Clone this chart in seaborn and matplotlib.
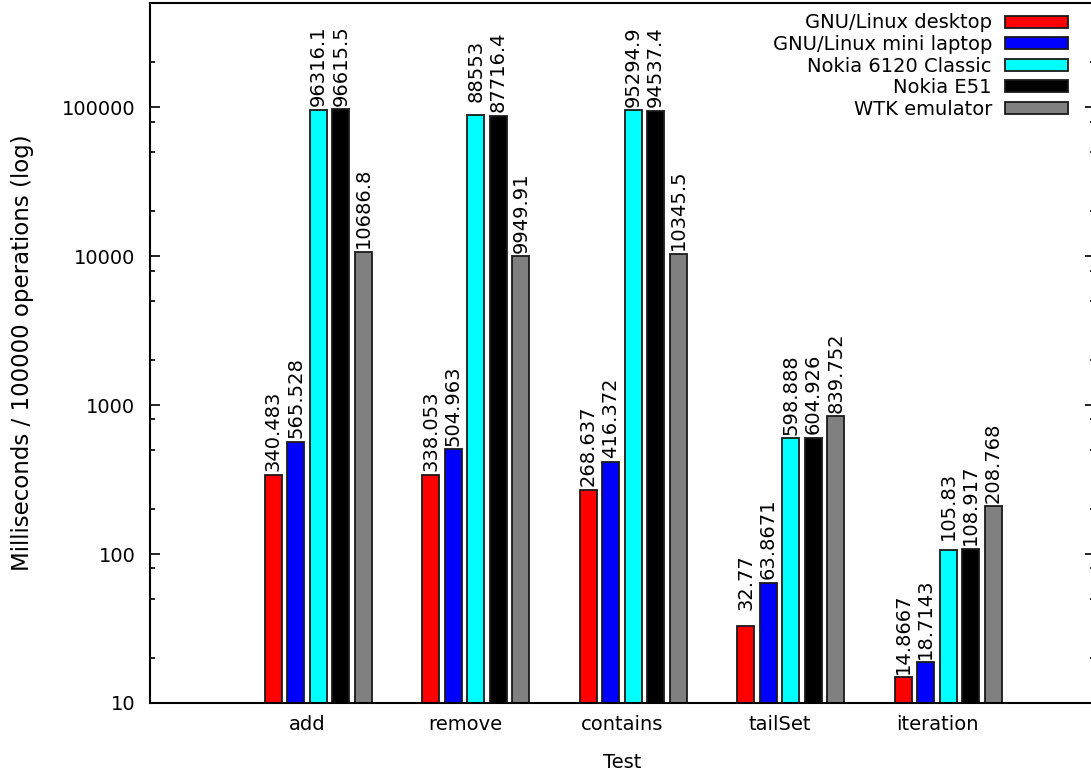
import numpy as np
import pandas as pd
import matplotlib
matplotlib.use("Agg")
import matplotlib.pyplot as plt
from matplotlib.patches import Patch
from matplotlib.ticker import LogLocator, FixedLocator, FuncFormatter, NullFormatter
import seaborn as sns

# ---- data ----
tests = ["add", "remove", "contains", "tailSet", "iteration"]
systems = ["GNU/Linux desktop", "GNU/Linux mini laptop", "Nokia 6120 Classic",
           "Nokia E51", "WTK emulator"]
linux_desktop = [340.483, 338.053, 268.637, 32.77, 14.8667]
linux_mini = [565.528, 504.963, 416.372, 63.8671, 18.7143]
nokia_6120 = [96316.1, 88553, 95294.9, 598.888, 105.83]
nokia_e51 = [96615.5, 87716.4, 94537.4, 604.926, 108.917]
wtk_emulator = [10686.8, 9949.91, 10345.5, 839.752, 208.768]
colors = ["#ff0000", "#0000ff", "#00ffff", "#000000", "#808080"]
yticks = [10, 100, 1000, 10000, 100000]

series = [linux_desktop, linux_mini, nokia_6120, nokia_e51, wtk_emulator]
rows = []
for sysname, vals in zip(systems, series):
    for t, v in zip(tests, vals):
        rows.append({"Test": t, "System": sysname, "value": v})
df = pd.DataFrame(rows)

sns.set_style("white")
plt.rcParams["font.family"] = ["DejaVu Sans"]
plt.rcParams["font.size"] = 14
plt.rcParams["text.color"] = "black"
plt.rcParams["axes.labelcolor"] = "black"
plt.rcParams["xtick.color"] = "black"
plt.rcParams["ytick.color"] = "black"

fig = plt.figure(figsize=(10.91, 7.74), dpi=100)
ax = fig.add_axes([150 / 1091, 71 / 774, 944.5 / 1091, 700 / 774])

sns.barplot(data=df, x="Test", y="value", hue="System", order=tests,
            hue_order=systems, palette=colors, width=0.714, gap=0.245,
            edgecolor="#1a1a1a", linewidth=1.3, errorbar=None, legend=False,
            saturation=1, ax=ax)

ax.set_yscale("log")
ax.set_ylim(10, 5e5)
ax.set_xlim(-1.07, 4.93)

# value labels
for cont, vals in zip(ax.containers, series):
    for bar, v in zip(cont, vals):
        xc = bar.get_x() + bar.get_width() / 2
        ax.annotate(f"{v:g}", xy=(xc, bar.get_height()), xytext=(0, 44),
                    textcoords="offset pixels", rotation=90, ha="center",
                    va="center", fontsize=14, color="black")

# axes styling
ax.set_xticks(np.arange(len(tests)) - 0.07)
ax.set_xticklabels(tests)
ax.yaxis.set_major_locator(FixedLocator(yticks))
ax.yaxis.set_major_formatter(FuncFormatter(lambda v, p: f"{int(round(v))}"))
ax.yaxis.set_minor_locator(LogLocator(base=10, subs=(2, 5, 8)))
ax.yaxis.set_minor_formatter(NullFormatter())
ax.tick_params(axis="y", which="major", direction="in", length=7.2, width=1.2,
               left=True, right=True, pad=10.5, labelsize=14)
ax.tick_params(axis="y", which="minor", direction="in", length=3.6, width=1.2,
               left=True, right=True)
ax.tick_params(axis="x", which="both", length=0, pad=9, labelsize=14)
for s in ax.spines.values():
    s.set_linewidth(1.5)
    s.set_color("black")

ax.set_xlabel("Test", fontsize=14, labelpad=13)
ax.set_ylabel("Milliseconds / 100000 operations (log)", fontsize=16.5, labelpad=20)
ax.grid(False)

handles = [Patch(facecolor=c, edgecolor="#1a1a1a", linewidth=1.3) for c in colors]
ax.legend(handles, systems, loc="upper right",
          bbox_to_anchor=(1068 / 1091, 1 - 13.5 / 774),
          bbox_transform=fig.transFigure, frameon=False, markerfirst=False,
          handlelength=3.24, handleheight=0.57, handletextpad=0.67,
          labelspacing=0.13, borderpad=0, borderaxespad=0, fontsize=14)

fig.savefig("out.png", dpi=100)
